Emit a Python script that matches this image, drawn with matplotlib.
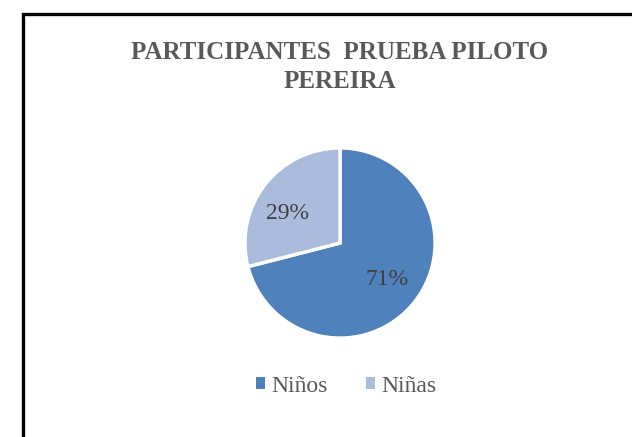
import matplotlib.pyplot as plt
from matplotlib.patches import Rectangle

# datos
categorias = ["Niños", "Niñas"]
porcentajes = [71, 29]
colores = ["#4F81BD", "#A9BCDC"]
titulo = "PARTICIPANTES  PRUEBA PILOTO\nPEREIRA"

W, H = 632, 437
fig = plt.figure(figsize=(W / 100, H / 100), dpi=100)
fig.patch.set_facecolor("white")

# marco negro del grafico
marco = Rectangle((22.5 / W, -0.05), 1.0, (H - 14) / H + 0.05,
                  transform=fig.transFigure, fill=False,
                  edgecolor="black", linewidth=2.4)
fig.patches.append(marco)

fig.text(340 / W, 1 - 67 / H, titulo, ha="center", va="center",
         family="Liberation Serif", fontweight="bold", fontsize=18,
         color="#595959", linespacing=1.3)

# pie centrado en (340, 243), radio ~97 px
r = 97
ax = fig.add_axes([(340 - r) / W, (H - 243 - r) / H, 2 * r / W, 2 * r / H])
wedges, _, autotexts = ax.pie(porcentajes, colors=colores, startangle=90,
                              counterclock=False, autopct="%1.0f%%",
                              pctdistance=0.63,
                              wedgeprops=dict(edgecolor="white", linewidth=2.5),
                              textprops=dict(family="Liberation Serif",
                                             fontsize=17, color="#404040"))
# posiciones de etiquetas como en Excel
autotexts[0].set_position((0.49, -0.38))
autotexts[1].set_position((-0.55, 0.31))
ax.set_xlim(-1.02, 1.02)
ax.set_ylim(-1.02, 1.02)
ax.set_aspect("equal")
ax.axis("off")

leg = fig.legend(wedges, categorias, loc="center", ncol=2,
                 bbox_to_anchor=(346 / W, 1 - 386 / H), frameon=False,
                 handlelength=0.4, handleheight=0.4, handletextpad=0.25,
                 columnspacing=1.6,
                 prop=dict(family="Liberation Serif", size=17))
for t in leg.get_texts():
    t.set_color("#595959")
for h in leg.legend_handles:
    h.set_edgecolor("none")

fig.savefig("out.png", dpi=100)
